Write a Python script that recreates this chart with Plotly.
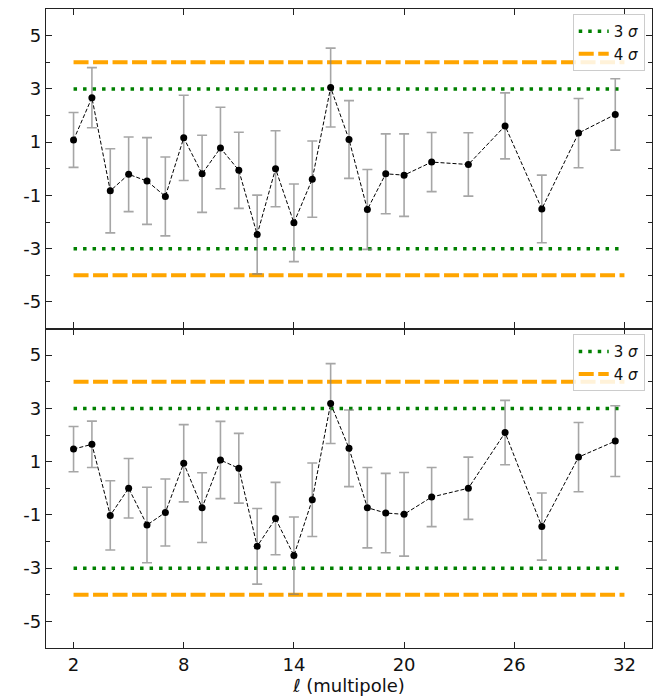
import plotly.graph_objects as go
from plotly.subplots import make_subplots

# ---- data ----
ell = [2, 3, 4, 5, 6, 7, 8, 9, 10, 11, 12, 13, 14, 15, 16, 17, 18, 19, 20,
       21.5, 23.5, 25.5, 27.5, 29.5, 31.5]

top_vals = [1.08, 2.67, -0.83, -0.21, -0.46, -1.04, 1.16, -0.19, 0.78, -0.06,
            -2.47, 0.0, -2.03, -0.39, 3.05, 1.10, -1.53, -0.19, -0.24, 0.25,
            0.16, 1.61, -1.51, 1.34, 2.04]
top_err = [1.03, 1.13, 1.58, 1.40, 1.63, 1.48, 1.60, 1.45, 1.53, 1.43,
           1.48, 1.43, 1.46, 1.43, 1.48, 1.46, 1.50, 1.50, 1.55, 1.11,
           1.19, 1.24, 1.27, 1.30, 1.34]

bottom_vals = [1.47, 1.65, -1.02, 0.0, -1.38, -0.91, 0.94, -0.73, 1.06, 0.75,
               -2.18, -1.14, -2.53, -0.43, 3.18, 1.50, -0.73, -0.93, -0.98, -0.33,
               0.0, 2.09, -1.44, 1.17, 1.77]
bottom_err = [0.85, 0.87, 1.30, 1.12, 1.42, 1.26, 1.45, 1.31, 1.45, 1.31,
              1.42, 1.36, 1.45, 1.38, 1.50, 1.44, 1.51, 1.49, 1.57, 1.11,
              1.17, 1.21, 1.26, 1.30, 1.33]

sigma_levels = [3, 4]
sigma_labels = ["3 <i>σ</i>", "4 <i>σ</i>"]
x_ticks = [2, 8, 14, 20, 26, 32]
y_major = [-5, -3, -1, 1, 3, 5]
y_minor = [-4, -2, 0, 2, 4]

# ---- styles ----
sigma_styles = [
    dict(color="#008000", width=3.5, dash="3.5px,6px"),
    dict(color="#FFA500", width=4, dash="15px,4.5px"),
]
AX = "#222222"
ERR = "rgba(128,128,128,0.7)"

fig = make_subplots(rows=2, cols=1, shared_xaxes=True, vertical_spacing=0)

panels = [(top_vals, top_err, "legend"), (bottom_vals, bottom_err, "legend2")]
for i, (vals, errs, leg) in enumerate(panels, start=1):
    for lvl, lab, st in zip(sigma_levels, sigma_labels, sigma_styles):
        xs = [ell[0], 32, None, ell[0], 32]
        ys = [lvl, lvl, None, -lvl, -lvl]
        fig.add_trace(go.Scatter(x=xs, y=ys, mode="lines", line=st, name=lab,
                                 legend=leg, showlegend=True, hoverinfo="skip"),
                      row=i, col=1)
    fig.add_trace(go.Scatter(
        x=ell, y=vals, mode="lines+markers",
        line=dict(color="black", width=1, dash="4px,2px"),
        marker=dict(color="black", size=7),
        error_y=dict(type="data", array=errs, visible=True, color=ERR,
                     thickness=1.6, width=5),
        showlegend=False), row=i, col=1)

axis_common = dict(showline=True, linecolor=AX, linewidth=1.3, mirror="ticks",
                   ticks="inside", tickcolor=AX, showgrid=False, zeroline=False,
                   tickfont=dict(family="DejaVu Sans", size=18, color="#111"))

for r in (1, 2):
    fig.update_xaxes(range=[0.5, 33.5], tickvals=x_ticks, ticklen=6,
                     row=r, col=1, **axis_common)
    fig.update_yaxes(range=[-6, 6], tickvals=y_major,
                     ticktext=[str(v) for v in y_major], ticklen=6,
                     minor=dict(tickvals=y_minor, ticklen=4, ticks="inside",
                                tickcolor=AX, showgrid=False),
                     row=r, col=1, **axis_common)

fig.update_xaxes(showticklabels=False, row=1, col=1)
fig.update_xaxes(title=dict(text="<i>ℓ</i> (multipole)",
                            font=dict(family="DejaVu Sans", size=18, color="#111"),
                            standoff=4), row=2, col=1)
fig.update_layout(yaxis=dict(domain=[0.5, 1.0]), yaxis2=dict(domain=[0.0, 0.5]))

leg_common = dict(xanchor="right", yanchor="top", x=0.988,
                  bgcolor="rgba(255,255,255,0.85)", bordercolor="#cccccc",
                  borderwidth=1, font=dict(family="DejaVu Sans", size=15, color="#111"),
                  itemwidth=30, tracegroupgap=0)

fig.update_layout(
    width=670, height=700,
    margin=dict(l=46, r=18, t=9, b=52),
    plot_bgcolor="white", paper_bgcolor="white",
    legend=dict(y=0.992, **leg_common),
    legend2=dict(y=0.491, **leg_common),
)

fig.write_html("out.html",
               config={"displayModeBar": False},
               post_script="document.body.style.margin='0';"
                           "document.body.style.overflow='hidden';")
